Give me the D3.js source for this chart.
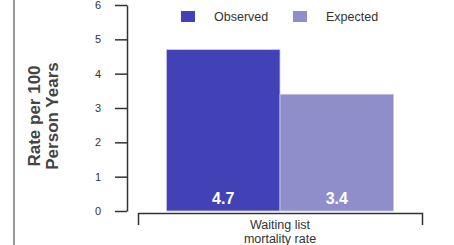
<!DOCTYPE html>
<html lang="en">
<head>
<meta charset="utf-8">
<title>Waiting list mortality</title>
<script src="https://d3js.org/d3.v7.min.js"></script>
<style>
  body { margin: 0; background: #fff; }
  svg { font-family: "Liberation Sans", Arial, sans-serif; }
  .axis path, .axis line { stroke: #333; stroke-width: 1.5; }
  .axis text { fill: #333; font-size: 11px; }
</style>
</head>
<body>
<script>
// data
var categories = ["Waiting list mortality rate"];
var series = ["Observed", "Expected"];
var observed = [4.7];
var expected = [3.4];
var colors = ["#4241b6", "#8f8ecb"];
var yTicks = [0, 1, 2, 3, 4, 5, 6];

var w = 454, h = 245;
var svg = d3.select("body").append("svg").attr("width", w).attr("height", h);

// left border line
svg.append("line").attr("x1", 14).attr("x2", 14).attr("y1", 0).attr("y2", h)
  .attr("stroke", "#999").attr("stroke-width", 2);

var y = d3.scaleLinear().domain([0, 6]).range([211, 5]);
var x0 = d3.scaleBand().domain(categories).range([138, 422]).paddingOuter(0.125);
var x1 = d3.scaleBand().domain(series).range([0, x0.bandwidth()]);

var vals = { "Observed": observed, "Expected": expected };

// y axis
svg.append("g").attr("class", "axis").attr("transform", "translate(127,0)")
  .call(d3.axisLeft(y).tickValues(yTicks).tickFormat(d3.format("d"))
    .tickSize(12).tickSizeOuter(0).tickPadding(14));

// x axis (bracket)
svg.append("g").attr("class", "axis").attr("transform", "translate(0,213)")
  .call(d3.axisBottom(x0).tickSize(0).tickSizeOuter(12).tickFormat(""));

// bars
categories.forEach(function(c, i) {
  var g = svg.append("g").attr("transform", "translate(" + x0(c) + ",0)");
  series.forEach(function(s, j) {
    var v = vals[s][i];
    g.append("rect")
      .attr("x", x1(s)).attr("y", y(v))
      .attr("width", x1.bandwidth()).attr("height", y(0) - y(v))
      .attr("fill", colors[j]).attr("stroke", "#c8c8ec").attr("stroke-width", 0.8);
    g.append("text")
      .attr("x", x1(s) + x1.bandwidth() / 2).attr("y", 204)
      .attr("text-anchor", "middle").attr("fill", "#fff")
      .attr("font-weight", "bold").attr("font-size", "16px")
      .text(v.toFixed(1));
  });
  var lab = svg.append("text").attr("text-anchor", "middle")
    .attr("font-size", "12.5px").attr("fill", "#333");
  lab.append("tspan").attr("x", x0(c) + x0.bandwidth() / 2).attr("y", 229).text("Waiting list");
  lab.append("tspan").attr("x", x0(c) + x0.bandwidth() / 2).attr("y", 243).text("mortality rate");
});

// y label
var yl = svg.append("text").attr("transform", "translate(44,116) rotate(-90)")
  .attr("text-anchor", "middle").attr("font-weight", "bold")
  .attr("font-size", "17px").attr("fill", "#444");
yl.append("tspan").attr("x", 0).attr("y", -4).text("Rate per 100");
yl.append("tspan").attr("x", 0).attr("y", 14).text("Person Years");

// legend
var legX = [181, 293];
series.forEach(function(s, j) {
  svg.append("rect").attr("x", legX[j]).attr("y", 11).attr("width", 14).attr("height", 11)
    .attr("fill", colors[j]);
  svg.append("text").attr("x", legX[j] + 33).attr("y", 21)
    .attr("font-size", "12.5px").attr("fill", "#333").text(s);
});
</script>
</body>
</html>
